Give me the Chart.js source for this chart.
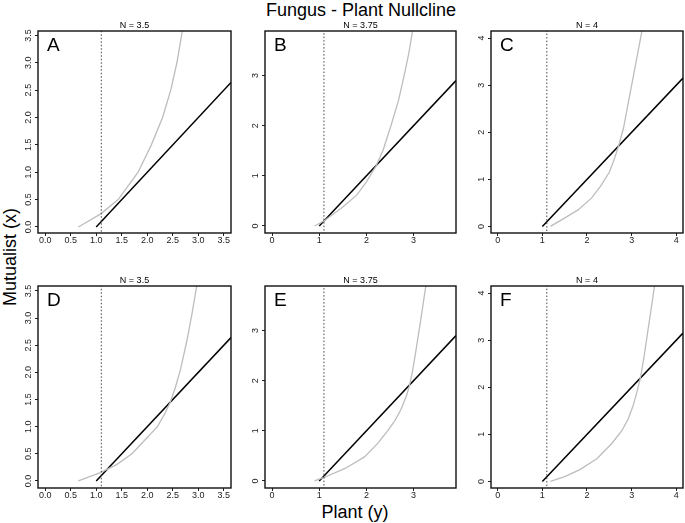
<!DOCTYPE html>
<html><head><meta charset="utf-8">
<script src="https://cdn.jsdelivr.net/npm/chart.js@4.4.0/dist/chart.umd.min.js"></script>
<style>
html,body{margin:0;padding:0;background:#fff;width:685px;height:523px;overflow:hidden;position:relative;font-family:"Liberation Sans",Arial,sans-serif;}
canvas{position:absolute;}
.lbl{position:absolute;white-space:nowrap;color:#000;font-size:18px;line-height:18px;}
</style></head><body>
<div class="lbl" style="left:361px;top:1px;transform:translateX(-50%)">Fungus - Plant Nullcline</div>
<div class="lbl" style="left:355px;top:503px;transform:translateX(-50%)">Plant (y)</div>
<div class="lbl" style="left:10px;top:257px;transform:translate(-50%,-50%) rotate(-90deg)">Mutualist (x)</div>
<script>
// ---------------- data ----------------
const panelLetters = ['A','B','C','D','E','F'];
const panelTitles = ['N = 3.5','N = 3.75','N = 4','N = 3.5','N = 3.75','N = 4'];
const thresholdX = 1.1;   // dotted vertical line

const ticksHalf = [0,0.5,1,1.5,2,2.5,3,3.5];
const ticks3 = [0,1,2,3];
const ticks4 = [0,1,2,3,4];

// grey (plant) nullcline curves
const curveA_x = [0.65,1.09,1.43,1.82,2.08,2.30,2.46,2.58,2.69];
const curveA_y = [0,0.24,0.5,1.0,1.5,2.0,2.5,3.0,3.6];
const curveB_x = [0.9,1.1,1.5,1.8,2.0,2.2,2.35,2.52,2.68,2.8,2.9,2.98];
const curveB_y = [0,0.1,0.38,0.62,0.88,1.19,1.5,2.0,2.5,3.0,3.45,3.9];
const curveC_x = [1.18,1.43,1.8,2.1,2.3,2.5,2.62,2.72,2.82,2.92,3.0,3.1,3.18,3.23];
const curveC_y = [0,0.14,0.35,0.6,0.85,1.15,1.45,1.75,2.1,2.6,3.0,3.5,3.9,4.15];
const curveD_x = [0.65,1.07,1.4,1.7,2.0,2.2,2.35,2.45,2.55,2.65,2.78,2.88,2.97];
const curveD_y = [0,0.15,0.3,0.5,0.8,1.0,1.25,1.45,1.72,2.05,2.6,3.1,3.6];
const curveE_x = [0.9,1.1,1.55,1.96,2.24,2.45,2.6,2.73,2.85,2.91,2.98,3.05,3.15,3.26];
const curveE_y = [0,0.07,0.25,0.48,0.75,1.0,1.2,1.42,1.7,1.89,2.2,2.6,3.2,3.89];
const curveF_x = [1.18,1.5,1.84,2.22,2.55,2.78,2.92,3.03,3.12,3.2,3.27,3.34,3.43,3.52];
const curveF_y = [0,0.1,0.25,0.48,0.8,1.08,1.32,1.6,1.9,2.22,2.6,3.05,3.62,4.2];

// black (fungus) nullcline lines
const lineA_x = [1, 3.64], lineA_y = [0, 2.64];
const lineB_x = [1, 3.9],  lineB_y = [0, 2.9];
const lineC_x = [1, 4.15], lineC_y = [0, 3.15];

// axis limits
const limA_x = [-0.14, 3.64], limA_y = [-0.11, 3.58];
const limD_y = [-0.13, 3.59];
const limB_x = [-0.15, 3.9],  limB_y = [-0.14, 3.89];
const limC_x = [-0.15, 4.15], limC_y = [-0.14, 4.15];

// ---------------- layout ----------------
const FONT = '"Liberation Sans", Arial, sans-serif';
const panels = [
  {cx:curveA_x, cy:curveA_y, lx:lineA_x, ly:lineA_y, ticks:ticksHalf, dec:1, xl:limA_x, yl:limA_y, box:[38,31,193,202], yPad:0},
  {cx:curveB_x, cy:curveB_y, lx:lineB_x, ly:lineB_y, ticks:ticks3, dec:0, xl:limB_x, yl:limB_y, box:[265,31,191,202], yPad:4},
  {cx:curveC_x, cy:curveC_y, lx:lineC_x, ly:lineC_y, ticks:ticks4, dec:0, xl:limC_x, yl:limC_y, box:[491,31,192,202], yPad:4},
  {cx:curveD_x, cy:curveD_y, lx:lineA_x, ly:lineA_y, ticks:ticksHalf, dec:1, xl:limA_x, yl:limD_y, box:[38,286,193,202], yPad:0},
  {cx:curveE_x, cy:curveE_y, lx:lineB_x, ly:lineB_y, ticks:ticks3, dec:0, xl:limB_x, yl:limB_y, box:[265,286,191,202], yPad:4},
  {cx:curveF_x, cy:curveF_y, lx:lineC_x, ly:lineC_y, ticks:ticks4, dec:0, xl:limC_x, yl:limC_y, box:[491,286,192,202], yPad:4}
];

const zip = (xs, ys) => xs.map((x, i) => ({x, y: ys[i]}));

const boxPlugin = {
  id: 'panelBox',
  afterDatasetsDraw(chart, args, opts) {
    const {ctx, chartArea: a} = chart;
    ctx.save();
    ctx.strokeStyle = '#111';
    ctx.lineWidth = 1.4;
    ctx.strokeRect(a.left, a.top, a.right - a.left, a.bottom - a.top);
    ctx.fillStyle = '#000';
    ctx.font = '19px ' + FONT;
    ctx.textBaseline = 'alphabetic';
    ctx.textAlign = 'left';
    ctx.fillText(opts.letter, a.left + 9, a.top + 20);
    ctx.restore();
  }
};

const L = 30, T = 16, R = 2, B = 18;

panels.forEach((p, i) => {
  const cv = document.createElement('canvas');
  cv.width = p.box[2] + L + R;
  cv.height = p.box[3] + T + B;
  cv.style.left = (p.box[0] - L) + 'px';
  cv.style.top = (p.box[1] - T) + 'px';
  cv.style.width = cv.width + 'px';
  cv.style.height = cv.height + 'px';
  document.body.appendChild(cv);
  const fmt = v => p.dec ? Number(v).toFixed(1) : String(v);
  const tickFont = {size: 9, family: FONT, lineHeight: 1};
  new Chart(cv, {
    type: 'scatter',
    data: {datasets: [
      {data: [{x: thresholdX, y: p.yl[0] - 1}, {x: thresholdX, y: p.yl[1] + 1}], showLine: true,
       borderColor: '#444', borderWidth: 1, borderDash: [1.5, 2], pointRadius: 0},
      {data: zip(p.cx, p.cy), showLine: true, borderColor: '#bdbdbd', borderWidth: 1.3, pointRadius: 0},
      {data: zip(p.lx, p.ly), showLine: true, borderColor: '#000', borderWidth: 1.5, pointRadius: 0}
    ]},
    options: {
      responsive: false, animation: false, devicePixelRatio: 1,
      layout: {padding: {left: 0, top: 0, right: R, bottom: 0}},
      elements: {line: {tension: 0}, point: {radius: 0}},
      plugins: {
        legend: {display: false}, tooltip: {enabled: false},
        title: {display: true, text: panelTitles[i], fullSize: false, color: '#000',
                font: {size: 9, family: FONT, lineHeight: 1, weight: 'normal'}, padding: {top: 6, bottom: 1}},
        panelBox: {letter: panelLetters[i]}
      },
      scales: {
        x: {type: 'linear', min: p.xl[0], max: p.xl[1],
            afterBuildTicks: s => { s.ticks = p.ticks.map(v => ({value: v})); },
            afterFit: s => { s.height = B; },
            grid: {display: true, drawOnChartArea: false, drawTicks: true, tickLength: 3, color: '#222', lineWidth: 1},
            border: {display: false},
            ticks: {callback: v => fmt(v), font: tickFont, color: '#222', padding: 0, maxRotation: 0, autoSkip: false}},
        y: {type: 'linear', min: p.yl[0], max: p.yl[1],
            afterBuildTicks: s => { s.ticks = p.ticks.map(v => ({value: v})); },
            afterFit: s => { s.width = L; },
            grid: {display: true, drawOnChartArea: false, drawTicks: true, tickLength: 3, color: '#222', lineWidth: 1},
            border: {display: false},
            ticks: {callback: v => fmt(v), font: tickFont, color: '#222', padding: p.yPad, minRotation: 90, maxRotation: 90,
                    crossAlign: 'center', autoSkip: false}}
      }
    },
    plugins: [boxPlugin]
  });
});
</script>
</body></html>
